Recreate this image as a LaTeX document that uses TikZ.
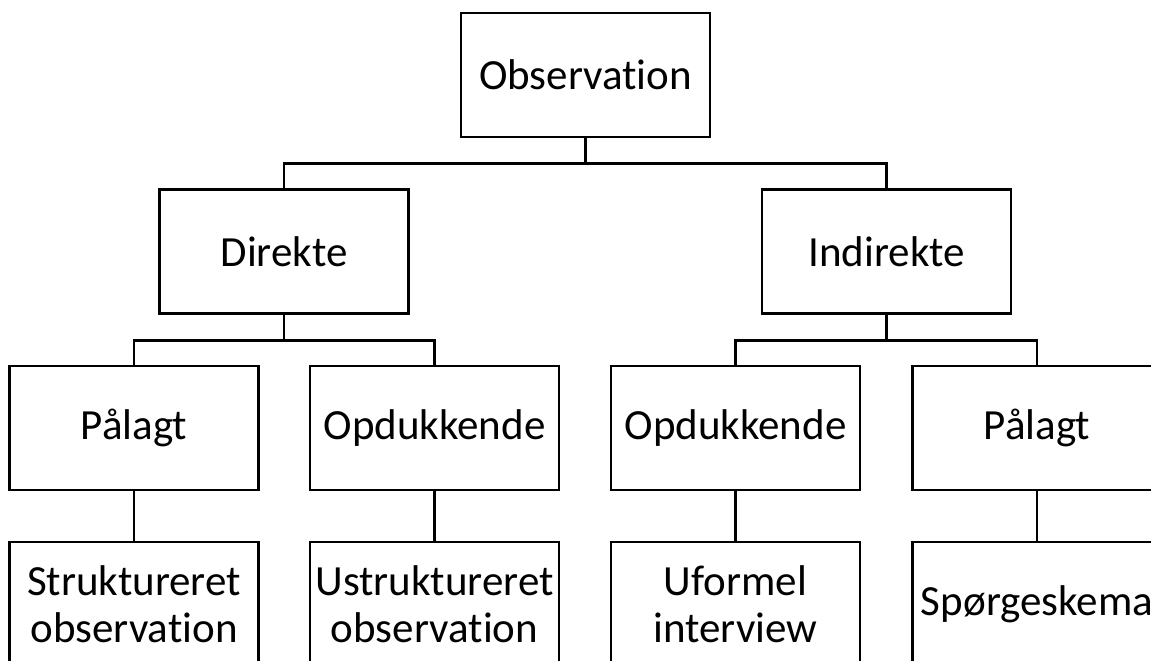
\documentclass[tikz,border=0pt]{standalone}
\usepackage{fontspec}
\setmainfont[Ligatures=NoCommon]{Carlito}
\begin{document}
\begin{tikzpicture}[x=1pt,y=-1pt,
  box/.style={draw=black, line width=2.8pt, fill=white, minimum width=249pt,
    minimum height=124pt, inner sep=0pt, align=center,
    font=\fontsize{43}{47}\selectfont},
  link/.style={draw=black, line width=2.8pt}]
\useasboundingbox (0,0) rectangle (1151,661);
\clip (0,0) rectangle (1151,661);

% tree nodes
\node[box] (obs) at (585.5,75) {Observation};
\node[box] (dir) at (284,251.5) {Direkte};
\node[box] (ind) at (886.5,251.5) {Indirekte};

\node[box] (pa1) at (134,428) {Pålagt};
\node[box] (op1) at (434.5,428) {Opdukkende};
\node[box] (op2) at (735.5,428) {Opdukkende};
\node[box] (pa2) at (1037,428) {Pålagt};

\node[box] (st) at (134,604) {Struktureret\\observation};
\node[box] (us) at (434.5,604) {Ustruktureret\\observation};
\node[box] (uf) at (735.5,604) {Uformel\\interview};
\node[box] (sp) at (1037,604) {Spørgeskema};

% junction points of the elbow connectors
\coordinate (j0) at (585.5,163.5);
\coordinate (j1) at (284,340.5);
\coordinate (j2) at (886.5,340.5);

\draw[link] (obs.south) -- (j0);
\draw[link] (dir.north) |- (j0) -| (ind.north);
\draw[link] (dir.south) -- (j1);
\draw[link] (pa1.north) |- (j1) -| (op1.north);
\draw[link] (ind.south) -- (j2);
\draw[link] (op2.north) |- (j2) -| (pa2.north);

\draw[link] (pa1.south) -- (st.north);
\draw[link] (op1.south) -- (us.north);
\draw[link] (op2.south) -- (uf.north);
\draw[link] (pa2.south) -- (sp.north);
\end{tikzpicture}
\end{document}
